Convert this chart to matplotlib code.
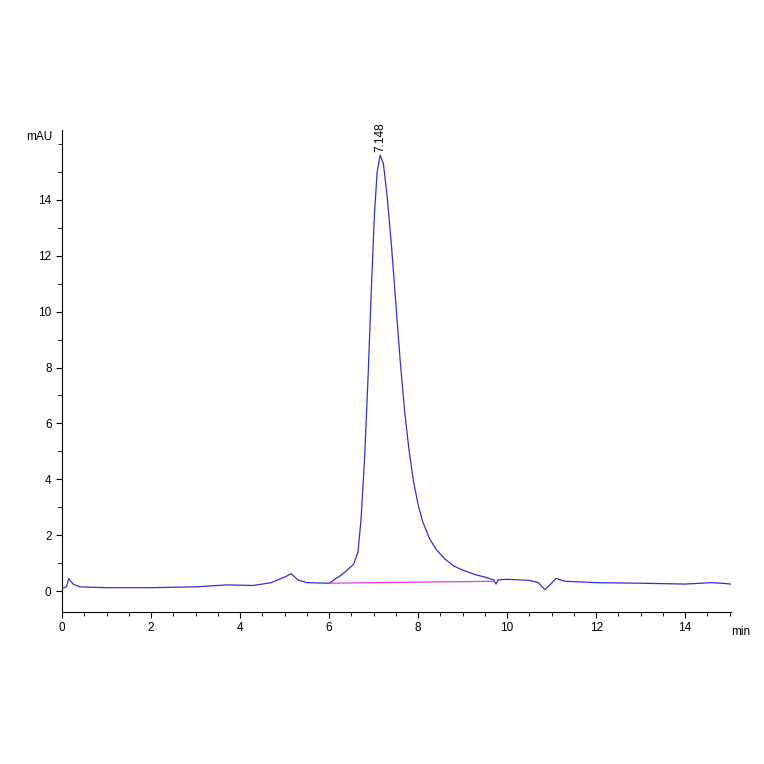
import matplotlib
matplotlib.use("Agg")
import matplotlib.pyplot as plt
from matplotlib.ticker import MultipleLocator, FixedLocator

time_min = [0, 0.1, 0.15, 0.25, 0.4, 1, 2, 3, 3.7, 4.3, 4.7, 5.0, 5.15, 5.3, 5.5, 6.0, 6.3, 6.55,
            6.65, 6.72, 6.8, 6.88, 6.95, 7.02, 7.08, 7.148, 7.22, 7.3, 7.4, 7.5, 7.6, 7.7, 7.8, 7.9,
            8.0, 8.1, 8.25, 8.4, 8.6, 8.8, 9.0, 9.3, 9.5,
            9.7, 9.75, 9.8, 10.0, 10.5, 10.7, 10.85, 10.95, 11.1, 11.3, 12, 13, 14, 14.6, 14.8, 15.03]
signal_mau = [0.1, 0.15, 0.45, 0.25, 0.15, 0.12, 0.12, 0.15, 0.22, 0.2, 0.3, 0.5, 0.62, 0.4, 0.3, 0.28, 0.6, 0.95,
              1.4, 2.6, 4.8, 7.8, 10.8, 13.5, 15.0, 15.6, 15.3, 14.2, 12.4, 10.3, 8.2, 6.4, 5.0, 3.9,
              3.1, 2.5, 1.9, 1.5, 1.15, 0.9, 0.75, 0.58, 0.5,
              0.4, 0.25, 0.4, 0.42, 0.38, 0.3, 0.05, 0.2, 0.45, 0.35, 0.3, 0.28, 0.25, 0.3, 0.28, 0.25]
baseline_x = [6.0, 9.7]
baseline_y = [0.28, 0.35]
peak_rt = 7.148
peak_h = 15.6

fig = plt.figure(figsize=(7.64, 7.64), dpi=100)
ax = fig.add_axes([62/764, 1-612/764, (731-62)/764, (612-130)/764])
ax.plot(time_min, signal_mau, color="#3030d0", lw=0.9)
ax.plot(baseline_x, baseline_y, color="#e040e0", lw=0.9)
ax.text(peak_rt, peak_h + 0.1, "7.148", rotation=90, ha="center", va="bottom", fontsize=8.5,
        family="Liberation Sans")
ax.set_xlim(0, 15.03)
ax.set_ylim(-0.75, 16.5)
for s in ("top", "right"):
    ax.spines[s].set_visible(False)
ax.xaxis.set_major_locator(FixedLocator([0, 2, 4, 6, 8, 10, 12, 14]))
ax.xaxis.set_minor_locator(MultipleLocator(0.5))
ax.yaxis.set_major_locator(FixedLocator([0, 2, 4, 6, 8, 10, 12, 14]))
ax.yaxis.set_minor_locator(MultipleLocator(1))
ax.tick_params(labelsize=8.5, length=4, width=0.8)
ax.tick_params(which="minor", length=3)
for t in ax.get_xticklabels() + ax.get_yticklabels():
    t.set_family("Liberation Sans")
ax.text(-0.015, 0.985, "mAU", transform=ax.transAxes, ha="right", va="center", fontsize=8.5,
        family="Liberation Sans")
ax.text(1.0, -0.03, "min", transform=ax.transAxes, ha="left", va="top", fontsize=8.5,
        family="Liberation Sans")
fig.savefig("out.png", dpi=100)
